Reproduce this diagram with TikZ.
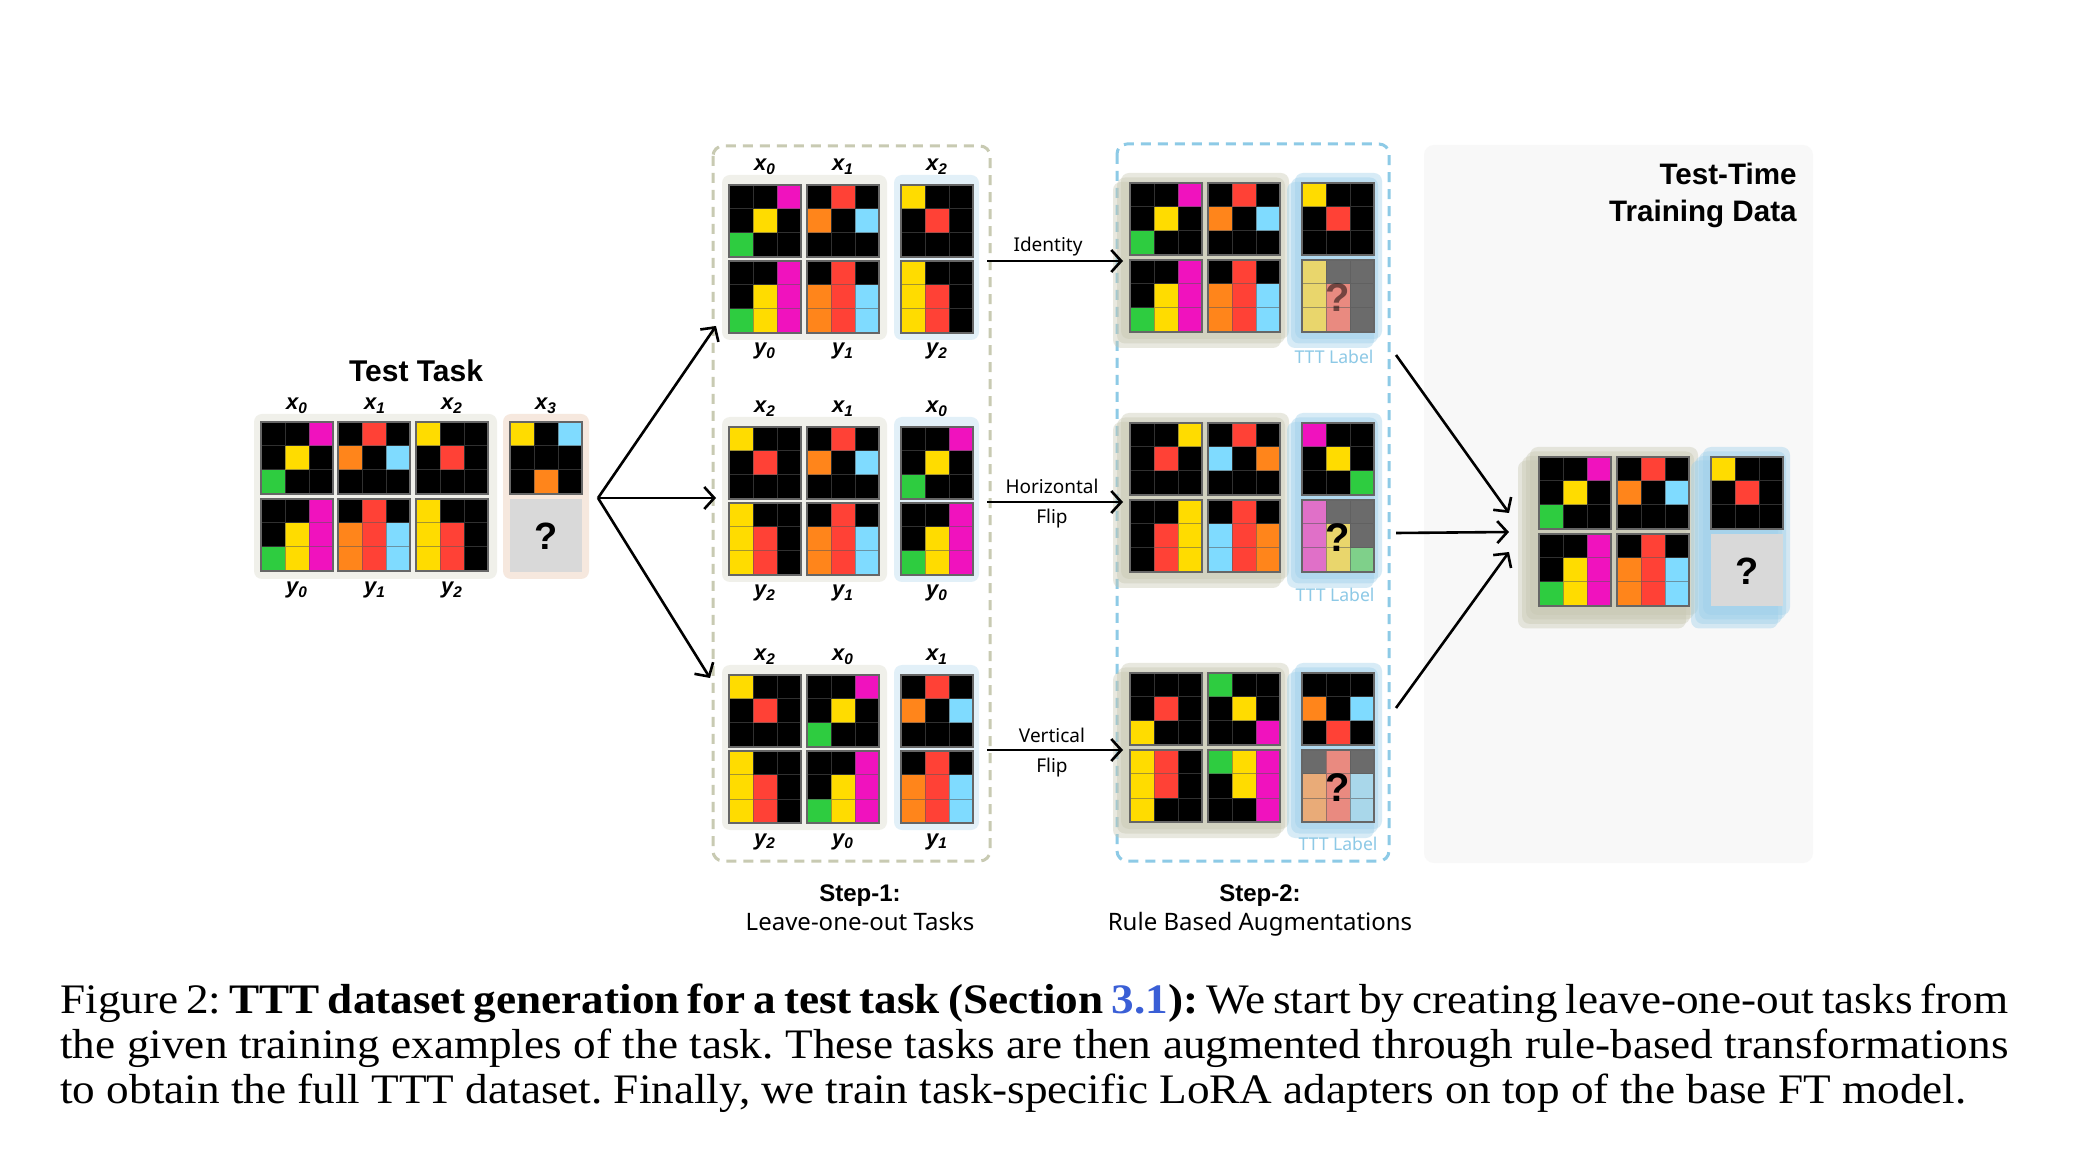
\documentclass[tikz,border=0pt]{standalone}
\usepackage{fontspec}
\newfontfamily\dfont{Noto Sans}
\newfontfamily\bfont{Liberation Sans}
\newfontfamily\capfont{Liberation Serif}[FakeStretch=1.076]
\usetikzlibrary{arrows.meta}
\frenchspacing
\definecolor{cK}{HTML}{000000}
\definecolor{cY}{HTML}{FFDC00}
\definecolor{cR}{HTML}{FF4136}
\definecolor{cM}{HTML}{F012BE}
\definecolor{cG}{HTML}{2ECC40}
\definecolor{cO}{HTML}{FF851B}
\definecolor{cB}{HTML}{7FDBFF}
\definecolor{fK}{HTML}{6B6B6B}
\definecolor{fY}{HTML}{E9D66C}
\definecolor{fR}{HTML}{E98A80}
\definecolor{fM}{HTML}{E070C8}
\definecolor{fG}{HTML}{7FD08A}
\definecolor{fO}{HTML}{E9AB78}
\definecolor{fB}{HTML}{A9D7EA}
\definecolor{pgray}{HTML}{F0F0EA}
\definecolor{pblue}{HTML}{E2F0F8}
\definecolor{ppeach}{HTML}{F6E8DE}
\definecolor{qgray}{HTML}{D9D9D9}
\definecolor{stkgray}{HTML}{C6C6B0}
\definecolor{stkblue}{HTML}{9CCFEA}
\definecolor{dash1}{HTML}{C8CAB2}
\definecolor{dash2}{HTML}{8DCAE6}
\definecolor{bgpanel}{HTML}{F8F8F8}
\definecolor{linkblue}{HTML}{3A5FD6}
\definecolor{tttblue}{HTML}{8DC9E6}
\def\Xa{cK,cK,cM,cK,cY,cK,cG,cK,cK}
\def\Ya{cK,cK,cM,cK,cY,cM,cG,cY,cM}
\def\Xb{cK,cR,cK,cO,cK,cB,cK,cK,cK}
\def\Yb{cK,cR,cK,cO,cR,cB,cO,cR,cB}
\def\Xc{cY,cK,cK,cK,cR,cK,cK,cK,cK}
\def\Yc{cY,cK,cK,cY,cR,cK,cY,cR,cK}
\def\Xd{cY,cK,cB,cK,cK,cK,cK,cO,cK}
\def\Fc{fY,fK,fK,fY,fR,fK,fY,fR,fK}
\def\HXc{cK,cK,cY,cK,cR,cK,cK,cK,cK}
\def\HYc{cK,cK,cY,cK,cR,cY,cK,cR,cY}
\def\HXb{cK,cR,cK,cB,cK,cO,cK,cK,cK}
\def\HYb{cK,cR,cK,cB,cR,cO,cB,cR,cO}
\def\HXa{cM,cK,cK,cK,cY,cK,cK,cK,cG}
\def\HFa{fM,fK,fK,fM,fY,fK,fM,fY,fG}
\def\VXc{cK,cK,cK,cK,cR,cK,cY,cK,cK}
\def\VYc{cY,cR,cK,cY,cR,cK,cY,cK,cK}
\def\VXa{cG,cK,cK,cK,cY,cK,cK,cK,cM}
\def\VYa{cG,cY,cM,cK,cY,cM,cK,cK,cM}
\def\VXb{cK,cK,cK,cO,cK,cB,cK,cR,cK}
\def\VFb{fK,fR,fK,fO,fR,fB,fO,fR,fB}
\newcommand{\arcgrid}[3]{%
  \foreach \cc [count=\ii from 0] in #3 {%
    \pgfmathtruncatemacro{\gr}{\ii/3}%
    \pgfmathtruncatemacro{\gc}{\ii-3*\gr}%
    \fill[\cc] ({#1+24*\gc},{#2+24*\gr}) rectangle ++(24,24);
  }%
  \draw[cellline] ({#1+24},#2) -- ++(0,72) ({#1+48},#2) -- ++(0,72)
    (#1,{#2+24}) -- ++(72,0) (#1,{#2+48}) -- ++(72,0);
  \draw[celledge] (#1,#2) rectangle ++(72,72);
}
\newcommand{\layers}[6]{%
  \foreach \k in {0,...,#6} {%
    \fill[#5, opacity=0.4, rounded corners=4pt] ({#1-4*\k},{#2+4.5*\k}) rectangle ({#3-4*\k},{#4+4.5*\k});
  }%
}
\newcommand{\labx}[1]{x\textsubscript{#1}}
\newcommand{\laby}[1]{y\textsubscript{#1}}
\tikzset{
  cellline/.style={draw=black!65, opacity=0.55, line width=0.5pt},
  celledge/.style={draw=black!60, line width=0.6pt},
  lbl/.style={font=\bfont\bfseries\itshape\fontsize{11}{13}\selectfont, inner sep=0pt, anchor=base},
  ttl/.style={font=\bfont\bfseries\fontsize{15}{17}\selectfont, inner sep=0pt, anchor=base},
  ttd/.style={font=\bfont\bfseries\fontsize{14.8}{17}\selectfont, inner sep=0pt, anchor=base east},
  qmark/.style={font=\bfont\bfseries\fontsize{19}{22}\selectfont, inner sep=0pt},
  qmarkf/.style={font=\bfont\bfseries\fontsize{20}{22}\selectfont, inner sep=0pt},
  tttl/.style={font=\dfont\fontsize{8.8}{11}\selectfont, text=tttblue, inner sep=0pt, anchor=base},
  alab/.style={font=\dfont\fontsize{9.5}{11}\selectfont, inner sep=0pt, anchor=base},
  slab/.style={font=\dfont\fontsize{12}{14}\selectfont, inner sep=0pt, anchor=base},
  sbold/.style={font=\bfont\bfseries\fontsize{12}{14}\selectfont, inner sep=0pt, anchor=base},
  arr/.style={line width=1.3pt, -{Straight Barb[length=5pt,width=11pt,line width=1.3pt]}},
  panel/.style={rounded corners=4pt},
  dbox/.style={line width=1.5pt, dash pattern=on 5pt off 3.5pt, rounded corners=5pt},
  captext/.style={font=\capfont\fontsize{21}{25}\selectfont, inner sep=0pt, anchor=base west},
}
\begin{document}
\begin{tikzpicture}[x=0.5pt,y=-0.5pt]
\useasboundingbox (0,0) rectangle (2100,1170);
\fill[white] (0,0) rectangle (2100,1170);
% right background
\fill[bgpanel, rounded corners=5pt] (1424,145) rectangle (1813,863);
% ---------- Test task ----------
\node[ttl] (tt) at (416,382) {Test Task};
\fill[pgray, panel] (254,414) rectangle (497,579);
\fill[ppeach, panel] (503,414) rectangle (589,579);
\arcgrid{261}{422}{\Xa}
\arcgrid{261}{499}{\Ya}
\arcgrid{338}{422}{\Xb}
\arcgrid{338}{499}{\Yb}
\arcgrid{416}{422}{\Xc}
\arcgrid{416}{499}{\Yc}
\arcgrid{510}{422}{\Xd}
\fill[qgray] (510,499) rectangle (582,572);
\node[qmark] (tq) at (546,536) {?};
\node[lbl] (tx0) at (297,410) {\labx{0}};
\node[lbl] (tx1) at (375,410) {\labx{1}};
\node[lbl] (tx2) at (452,410) {\labx{2}};
\node[lbl] (tx3) at (546,410) {\labx{3}};
\node[lbl] (ty0) at (297,594) {\laby{0}};
\node[lbl] (ty1) at (375,594) {\laby{1}};
\node[lbl] (ty2) at (452,594) {\laby{2}};
% ---------- Step 1 ----------
\draw[dash1, dbox] (713,146) rectangle (990,861);
% row 1
\fill[pgray, panel] (722,175) rectangle (887,340);
\fill[pblue, panel] (894,175) rectangle (979,340);
\arcgrid{729}{185}{\Xa} \arcgrid{729}{261}{\Ya}
\arcgrid{807}{185}{\Xb} \arcgrid{807}{261}{\Yb}
\arcgrid{901}{185}{\Xc} \arcgrid{901}{261}{\Yc}
\node[lbl] (a1) at (765,171) {\labx{0}};
\node[lbl] (a2) at (843,171) {\labx{1}};
\node[lbl] (a3) at (937,171) {\labx{2}};
\node[lbl] (a4) at (765,355) {\laby{0}};
\node[lbl] (a5) at (843,355) {\laby{1}};
\node[lbl] (a6) at (937,355) {\laby{2}};
% row 2
\fill[pgray, panel] (722,417) rectangle (887,582);
\fill[pblue, panel] (894,417) rectangle (979,582);
\arcgrid{729}{427}{\Xc} \arcgrid{729}{503}{\Yc}
\arcgrid{807}{427}{\Xb} \arcgrid{807}{503}{\Yb}
\arcgrid{901}{427}{\Xa} \arcgrid{901}{503}{\Ya}
\node[lbl] (b1) at (765,413) {\labx{2}};
\node[lbl] (b2) at (843,413) {\labx{1}};
\node[lbl] (b3) at (937,413) {\labx{0}};
\node[lbl] (b4) at (765,597) {\laby{2}};
\node[lbl] (b5) at (843,597) {\laby{1}};
\node[lbl] (b6) at (937,597) {\laby{0}};
% row 3
\fill[pgray, panel] (722,665) rectangle (887,830);
\fill[pblue, panel] (894,665) rectangle (979,830);
\arcgrid{729}{675}{\Xc} \arcgrid{729}{751}{\Yc}
\arcgrid{807}{675}{\Xa} \arcgrid{807}{751}{\Ya}
\arcgrid{901}{675}{\Xb} \arcgrid{901}{751}{\Yb}
\node[lbl] (c1) at (765,661) {\labx{2}};
\node[lbl] (c2) at (843,661) {\labx{0}};
\node[lbl] (c3) at (937,661) {\labx{1}};
\node[lbl] (c4) at (765,845) {\laby{2}};
\node[lbl] (c5) at (843,845) {\laby{0}};
\node[lbl] (c6) at (937,845) {\laby{1}};
% ---------- Step 2 ----------
\draw[dash2, dbox] (1117,144) rectangle (1389,861);
% row 1
\layers{1121}{173}{1289}{339}{stkgray}{2}
\layers{1295}{173}{1382}{339}{stkblue}{2}
\arcgrid{1130}{183}{\Xa} \arcgrid{1130}{260}{\Ya}
\arcgrid{1208}{183}{\Xb} \arcgrid{1208}{260}{\Yb}
\arcgrid{1302}{183}{\Xc} \arcgrid{1302}{260}{\Fc}
\node[qmarkf, text=black, opacity=0.5] (q1) at (1338,298) {?};
\node[tttl] (l1) at (1334,364) {TTT Label};
% row 2
\layers{1121}{413}{1289}{579}{stkgray}{2}
\layers{1295}{413}{1382}{579}{stkblue}{2}
\arcgrid{1130}{423}{\HXc} \arcgrid{1130}{500}{\HYc}
\arcgrid{1208}{423}{\HXb} \arcgrid{1208}{500}{\HYb}
\arcgrid{1302}{423}{\HXa} \arcgrid{1302}{500}{\HFa}
\node[qmarkf] (q2) at (1338,538) {?};
\node[tttl] (l2) at (1335,602) {TTT Label};
% row 3
\layers{1121}{663}{1289}{829}{stkgray}{2}
\layers{1295}{663}{1382}{829}{stkblue}{2}
\arcgrid{1130}{673}{\VXc} \arcgrid{1130}{750}{\VYc}
\arcgrid{1208}{673}{\VXa} \arcgrid{1208}{750}{\VYa}
\arcgrid{1302}{673}{\VXb} \arcgrid{1302}{750}{\VFb}
\node[qmarkf] (q3) at (1338,788) {?};
\node[tttl] (l3) at (1338,850) {TTT Label};
% ---------- Final ----------
\node[ttd] (fd1) at (1797,185) {Test-Time};
\node[ttd] (fd2) at (1797,222) {Training Data};
\layers{1530}{447}{1698}{615}{stkgray}{3}
\layers{1703}{447}{1790}{615}{stkblue}{3}
\arcgrid{1539}{457}{\Xa} \arcgrid{1539}{534}{\Ya}
\arcgrid{1617}{457}{\Xb} \arcgrid{1617}{534}{\Yb}
\arcgrid{1711}{457}{\Xc}
\fill[qgray] (1711,534) rectangle (1783,606);
\node[qmark] (fq) at (1747,571) {?};
% ---------- Arrows ----------
\coordinate (fan) at (598,498);
\coordinate (s1a) at (716,326);
\coordinate (s1b) at (716,498);
\coordinate (s1c) at (710,678);
\draw[arr] (fan) -- (s1a);
\draw[arr] (fan) -- (s1b);
\draw[arr] (fan) -- (s1c);
\coordinate (o1a) at (987,261); \coordinate (i2a) at (1123,261);
\coordinate (o1b) at (987,502); \coordinate (i2b) at (1123,502);
\coordinate (o1c) at (987,750); \coordinate (i2c) at (1123,750);
\draw[arr] (o1a) -- (i2a);
\draw[arr] (o1b) -- (i2b);
\draw[arr] (o1c) -- (i2c);
\node[alab] (id) at (1048,252) {Identity};
\node[alab] (hf1) at (1052,494) {Horizontal};
\node[alab] (hf2) at (1052,524) {Flip};
\node[alab] (vf1) at (1052,743) {Vertical};
\node[alab] (vf2) at (1052,773) {Flip};
\coordinate (o2a) at (1396,355); \coordinate (fa) at (1509,513);
\coordinate (o2b) at (1396,533); \coordinate (fb) at (1509,532);
\coordinate (o2c) at (1396,708); \coordinate (fc) at (1509,552);
\draw[arr] (o2a) -- (fa);
\draw[arr] (o2b) -- (fb);
\draw[arr] (o2c) -- (fc);
% ---------- Step labels ----------
\node[sbold] (st1) at (860,901) {Step-1:};
\node[slab] (st1b) at (860,930) {Leave-one-out Tasks};
\node[sbold] (st2) at (1260,901) {Step-2:};
\node[slab] (st2b) at (1260,930) {Rule Based Augmentations};
% ---------- Caption ----------
\node[captext] (cap1) at (60,1013) {\makebox[974pt][s]{Figure 2: \textbf{TTT dataset generation for a test task (Section \textcolor{linkblue}{3.1}):} We start by creating leave-one-out tasks from}};
\node[captext] (cap2) at (60,1058) {\makebox[974pt][s]{the given training examples of the task. These tasks are then augmented through rule-based transformations}};
\node[captext] (cap3) at (60,1103) {to obtain the full TTT dataset. Finally, we train task-specific LoRA adapters on top of the base FT model.};
\end{tikzpicture}
\end{document}
